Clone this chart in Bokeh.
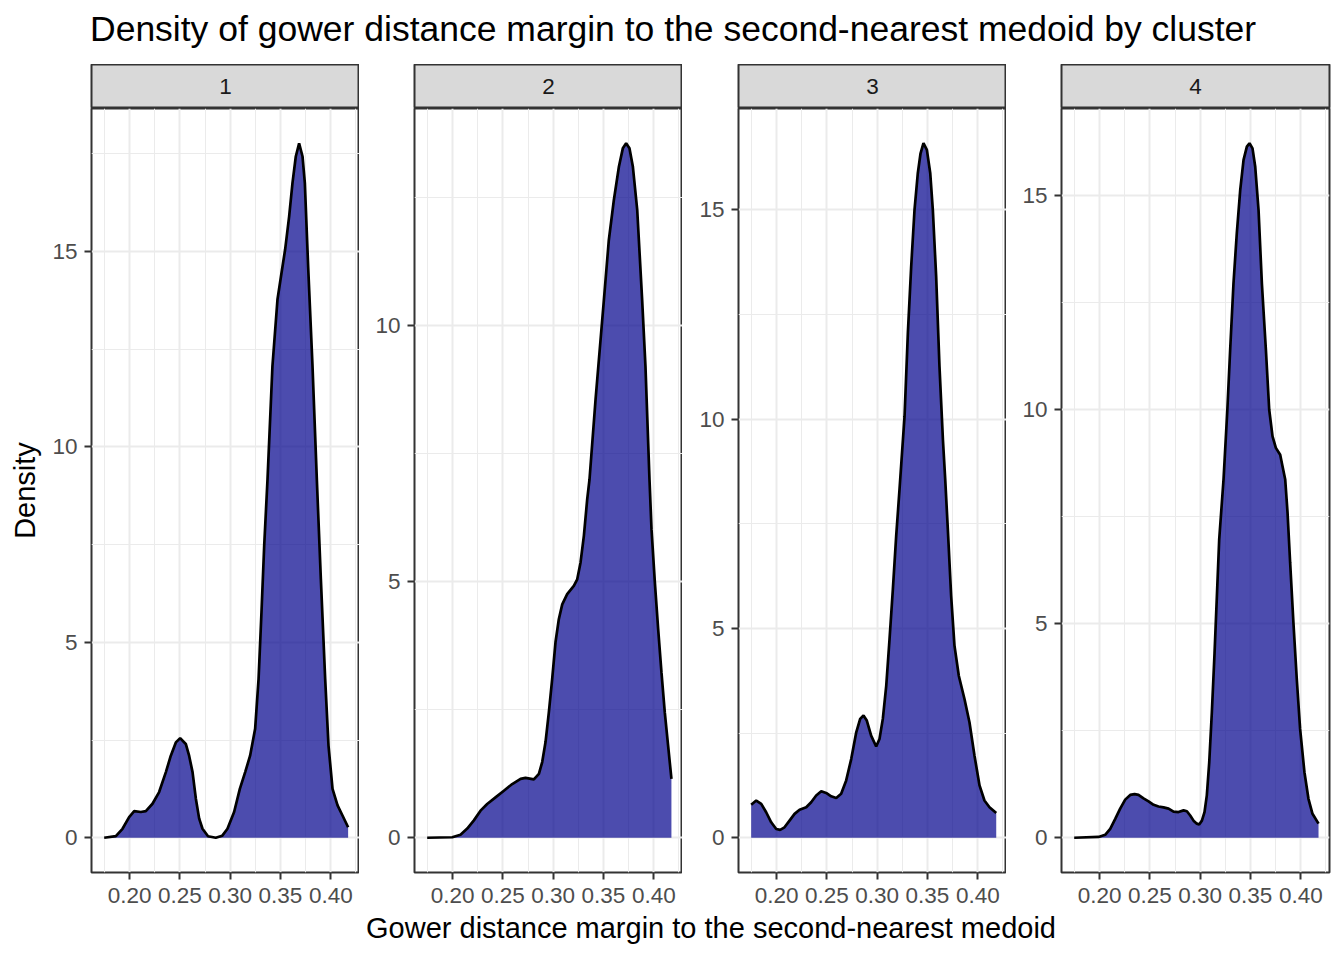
from bokeh.plotting import figure
from bokeh.layouts import row, column
from bokeh.models import Range1d, FixedTicker, NumeralTickFormatter, Label
from bokeh.embed import file_html
from bokeh.resources import INLINE

# ---------------- data ----------------
clusters = ["1", "2", "3", "4"]

x1 = [0.1748, 0.1864, 0.1930, 0.1996, 0.2046, 0.2112, 0.2162, 0.2228, 0.2294, 0.2361,
      0.2410, 0.2460, 0.2503, 0.2559, 0.2592, 0.2626, 0.2659, 0.2692, 0.2725, 0.2780,
      0.2857, 0.2920, 0.2973, 0.3039, 0.3096, 0.3149, 0.3198, 0.3248, 0.3282, 0.3311,
      0.3338, 0.3371, 0.3420, 0.3470, 0.3510, 0.3546, 0.3586, 0.3619, 0.3652, 0.3685,
      0.3719, 0.3742, 0.3775, 0.3818, 0.3861, 0.3901, 0.3944, 0.3977, 0.4017, 0.4067,
      0.4116, 0.4172]
d1 = [0.00, 0.04, 0.23, 0.53, 0.68, 0.66, 0.68, 0.87, 1.17, 1.68,
      2.10, 2.44, 2.55, 2.40, 2.10, 1.68, 1.00, 0.49, 0.23, 0.04,
      0.00, 0.05, 0.23, 0.66, 1.25, 1.68, 2.10, 2.79, 4.06, 5.77,
      7.47, 9.17, 12.07, 13.77, 14.45, 15.05, 15.90, 16.75, 17.43, 17.77,
      17.43, 16.75, 14.60, 12.07, 9.17, 6.62, 4.06, 2.36, 1.25, 0.83,
      0.57, 0.27]

x2 = [0.1748, 0.1997, 0.2079, 0.2146, 0.2212, 0.2278, 0.2344, 0.2427, 0.2510, 0.2593,
      0.2676, 0.2725, 0.2808, 0.2858, 0.2891, 0.2924, 0.2957, 0.2990, 0.3023, 0.3056,
      0.3090, 0.3139, 0.3205, 0.3239, 0.3272, 0.3305, 0.3338, 0.3361, 0.3421, 0.3504,
      0.3553, 0.3603, 0.3653, 0.3692, 0.3725, 0.3758, 0.3792, 0.3835, 0.3884, 0.3917,
      0.3957, 0.3977, 0.4010, 0.4043, 0.4076, 0.4109, 0.4142, 0.4175]
d2 = [0.00, 0.01, 0.06, 0.18, 0.34, 0.53, 0.66, 0.79, 0.92, 1.05,
      1.15, 1.17, 1.14, 1.25, 1.48, 1.87, 2.45, 3.10, 3.82, 4.27,
      4.56, 4.76, 4.92, 5.05, 5.38, 5.90, 6.61, 7.00, 8.56, 10.51,
      11.68, 12.46, 13.11, 13.47, 13.57, 13.47, 13.11, 12.27, 10.51, 9.21,
      7.00, 6.03, 5.00, 4.08, 3.23, 2.45, 1.80, 1.15]

x3 = [0.1748, 0.1798, 0.1848, 0.1897, 0.1947, 0.1997, 0.2036, 0.2079, 0.2129, 0.2179,
      0.2229, 0.2295, 0.2344, 0.2394, 0.2444, 0.2493, 0.2543, 0.2593, 0.2642, 0.2692,
      0.2742, 0.2792, 0.2831, 0.2864, 0.2897, 0.2940, 0.2990, 0.3023, 0.3056, 0.3090,
      0.3123, 0.3156, 0.3189, 0.3222, 0.3272, 0.3305, 0.3338, 0.3371, 0.3404, 0.3431,
      0.3460, 0.3494, 0.3527, 0.3553, 0.3586, 0.3619, 0.3653, 0.3676, 0.3702, 0.3735,
      0.3768, 0.3811, 0.3868, 0.3917, 0.3967, 0.4017, 0.4066, 0.4116, 0.4183]
d3 = [0.79, 0.89, 0.81, 0.61, 0.37, 0.21, 0.19, 0.25, 0.41, 0.57,
      0.67, 0.73, 0.85, 1.01, 1.11, 1.07, 0.99, 0.95, 1.05, 1.37,
      1.88, 2.52, 2.84, 2.92, 2.80, 2.44, 2.18, 2.36, 2.84, 3.63,
      4.75, 5.94, 7.21, 8.32, 10.07, 12.06, 13.65, 15.00, 15.88, 16.35,
      16.59, 16.43, 15.88, 15.00, 13.41, 11.26, 9.52, 8.56, 7.37, 5.78,
      4.59, 3.87, 3.31, 2.76, 1.96, 1.25, 0.89, 0.73, 0.59]

x4 = [0.1748, 0.1990, 0.2056, 0.2106, 0.2156, 0.2205, 0.2255, 0.2305, 0.2348, 0.2387,
      0.2437, 0.2487, 0.2537, 0.2586, 0.2636, 0.2686, 0.2735, 0.2785, 0.2835, 0.2868,
      0.2901, 0.2934, 0.2967, 0.2990, 0.3017, 0.3043, 0.3066, 0.3090, 0.3116, 0.3143,
      0.3166, 0.3189, 0.3232, 0.3270, 0.3298, 0.3331, 0.3364, 0.3398, 0.3431, 0.3464,
      0.3490, 0.3520, 0.3547, 0.3580, 0.3613, 0.3653, 0.3686, 0.3719, 0.3752, 0.3795,
      0.3818, 0.3845, 0.3868, 0.3894, 0.3927, 0.3960, 0.3993, 0.4036, 0.4076, 0.4116,
      0.4176]
d4 = [0.00, 0.02, 0.07, 0.21, 0.44, 0.68, 0.89, 1.00, 1.02, 1.00,
      0.92, 0.85, 0.77, 0.73, 0.71, 0.68, 0.61, 0.60, 0.64, 0.62,
      0.52, 0.40, 0.33, 0.31, 0.40, 0.60, 0.99, 1.76, 2.93, 4.32,
      5.64, 6.96, 8.36, 9.99, 11.39, 12.94, 14.11, 15.12, 15.82, 16.13,
      16.21, 16.09, 15.66, 14.65, 12.94, 11.39, 9.99, 9.37, 9.10, 8.94,
      8.67, 8.36, 7.59, 6.42, 5.00, 3.70, 2.54, 1.53, 0.91, 0.56,
      0.33]

series_x = [x1, x2, x3, x4]
series_d = [d1, d2, d3, d4]

x_major_ticks = [0.20, 0.25, 0.30, 0.35, 0.40]
x_minor_ticks = [0.175, 0.225, 0.275, 0.325, 0.375, 0.425]
y_major_ticks = [[0, 5, 10, 15], [0, 5, 10], [0, 5, 10, 15], [0, 5, 10, 15]]
y_minor_ticks = [2.5, 7.5, 12.5, 17.5]
x_limits = (0.1622, 0.4285)

title_text = "Density of gower distance margin to the second-nearest medoid by cluster"
x_title = "Gower distance margin to the second-nearest medoid"
y_title = "Density"

# ---------------- layout / style ----------------
FONT = "Liberation Sans"
FRAME_W, FRAME_H = 268, 764
STRIP_H = 44
TITLE_H = 64
XLAB_H = 46
LEFT_B = [91, 55, 56, 55]
RIGHT_B = [0, 0, 0, 13]
BOTTOM_B = 40
TOTAL_W = sum(LEFT_B) + sum(RIGHT_B) + 4 * FRAME_W
TICK_SIZE = "22.5px"
BORDER = "#333333"
GRID = "#EBEBEB"


def text_fig(w, h):
    f = figure(width=w, height=h, x_range=Range1d(0, w), y_range=Range1d(0, h),
               x_axis_location=None, y_axis_location=None, output_backend="svg",
               toolbar_location=None, min_border=0)
    f.grid.visible = False
    f.outline_line_color = None
    f.background_fill_color = "white"
    f.border_fill_color = "white"
    return f


def strip_fig(i):
    s = figure(frame_width=FRAME_W, frame_height=STRIP_H, x_range=Range1d(0, 1),
               y_range=Range1d(0, 1), x_axis_location=None, y_axis_location=None,
               output_backend="svg", toolbar_location=None,
               min_border_left=LEFT_B[i], min_border_right=RIGHT_B[i],
               min_border_top=0, min_border_bottom=0)
    s.grid.visible = False
    s.background_fill_color = "#D9D9D9"
    s.border_fill_color = "white"
    s.outline_line_color = BORDER
    s.outline_line_width = 2
    s.add_layout(Label(x=0.5, y=0.5, text=clusters[i], text_align="center",
                       text_baseline="middle", text_font=FONT,
                       text_font_size=TICK_SIZE, text_color="#1A1A1A"))
    return s


def panel_fig(i):
    xs, ds = series_x[i], series_d[i]
    ymax = max(ds)
    p = figure(frame_width=FRAME_W, frame_height=FRAME_H,
               x_range=Range1d(*x_limits), y_range=Range1d(-0.05 * ymax, 1.05 * ymax),
               output_backend="svg", toolbar_location=None,
               min_border_left=LEFT_B[i], min_border_right=RIGHT_B[i],
               min_border_top=0, min_border_bottom=BOTTOM_B)
    p.background_fill_color = "white"
    p.border_fill_color = "white"
    p.outline_line_color = BORDER
    p.outline_line_width = 2

    xt = FixedTicker(ticks=x_major_ticks, minor_ticks=x_minor_ticks)
    yt = FixedTicker(ticks=y_major_ticks[i], minor_ticks=y_minor_ticks)
    p.xaxis.ticker = xt
    p.yaxis.ticker = yt
    p.xgrid.ticker = xt
    p.ygrid.ticker = yt
    p.xaxis.formatter = NumeralTickFormatter(format="0.00")
    for g in (p.xgrid, p.ygrid):
        g.grid_line_color = GRID
        g.grid_line_width = 2
        g.minor_grid_line_color = GRID
        g.minor_grid_line_width = 1

    for ax in (p.xaxis, p.yaxis):
        ax.axis_line_color = None
        ax.major_tick_line_color = BORDER
        ax.major_tick_line_width = 2
        ax.major_tick_out = 7
        ax.major_tick_in = 0
        ax.minor_tick_line_color = None
        ax.major_label_text_font = FONT
        ax.major_label_text_font_size = TICK_SIZE
        ax.major_label_text_color = "#4D4D4D"
    p.xaxis.major_label_standoff = 8
    p.yaxis.major_label_standoff = 7

    if i == 0:
        p.yaxis.axis_label = y_title
        p.yaxis.axis_label_text_font = FONT
        p.yaxis.axis_label_text_font_size = "29px"
        p.yaxis.axis_label_text_font_style = "normal"
        p.yaxis.axis_label_text_color = "black"
        p.yaxis.axis_label_standoff = 8

    p.varea(x=xs, y1=0, y2=ds, fill_color="#00008B", fill_alpha=0.7)
    p.line(x=xs, y=ds, line_color="black", line_width=2.7)
    return p


title_f = text_fig(TOTAL_W, TITLE_H)
title_f.add_layout(Label(x=89.5, y=TITLE_H - 28.5, text=title_text, text_align="left",
                         text_baseline="middle", text_font=FONT,
                         text_font_size="35.5px", text_color="black"))

xlab_f = text_fig(TOTAL_W, XLAB_H)
xlab_f.add_layout(Label(x=710.5, y=XLAB_H - 15.2, text=x_title, text_align="center",
                        text_baseline="middle", text_font=FONT,
                        text_font_size="29px", text_color="black"))

cols = [column(strip_fig(i), panel_fig(i), spacing=0) for i in range(4)]
layout = column(title_f, row(*cols, spacing=0), xlab_f, spacing=0)

open("out.html", "w").write(file_html(layout, INLINE))
